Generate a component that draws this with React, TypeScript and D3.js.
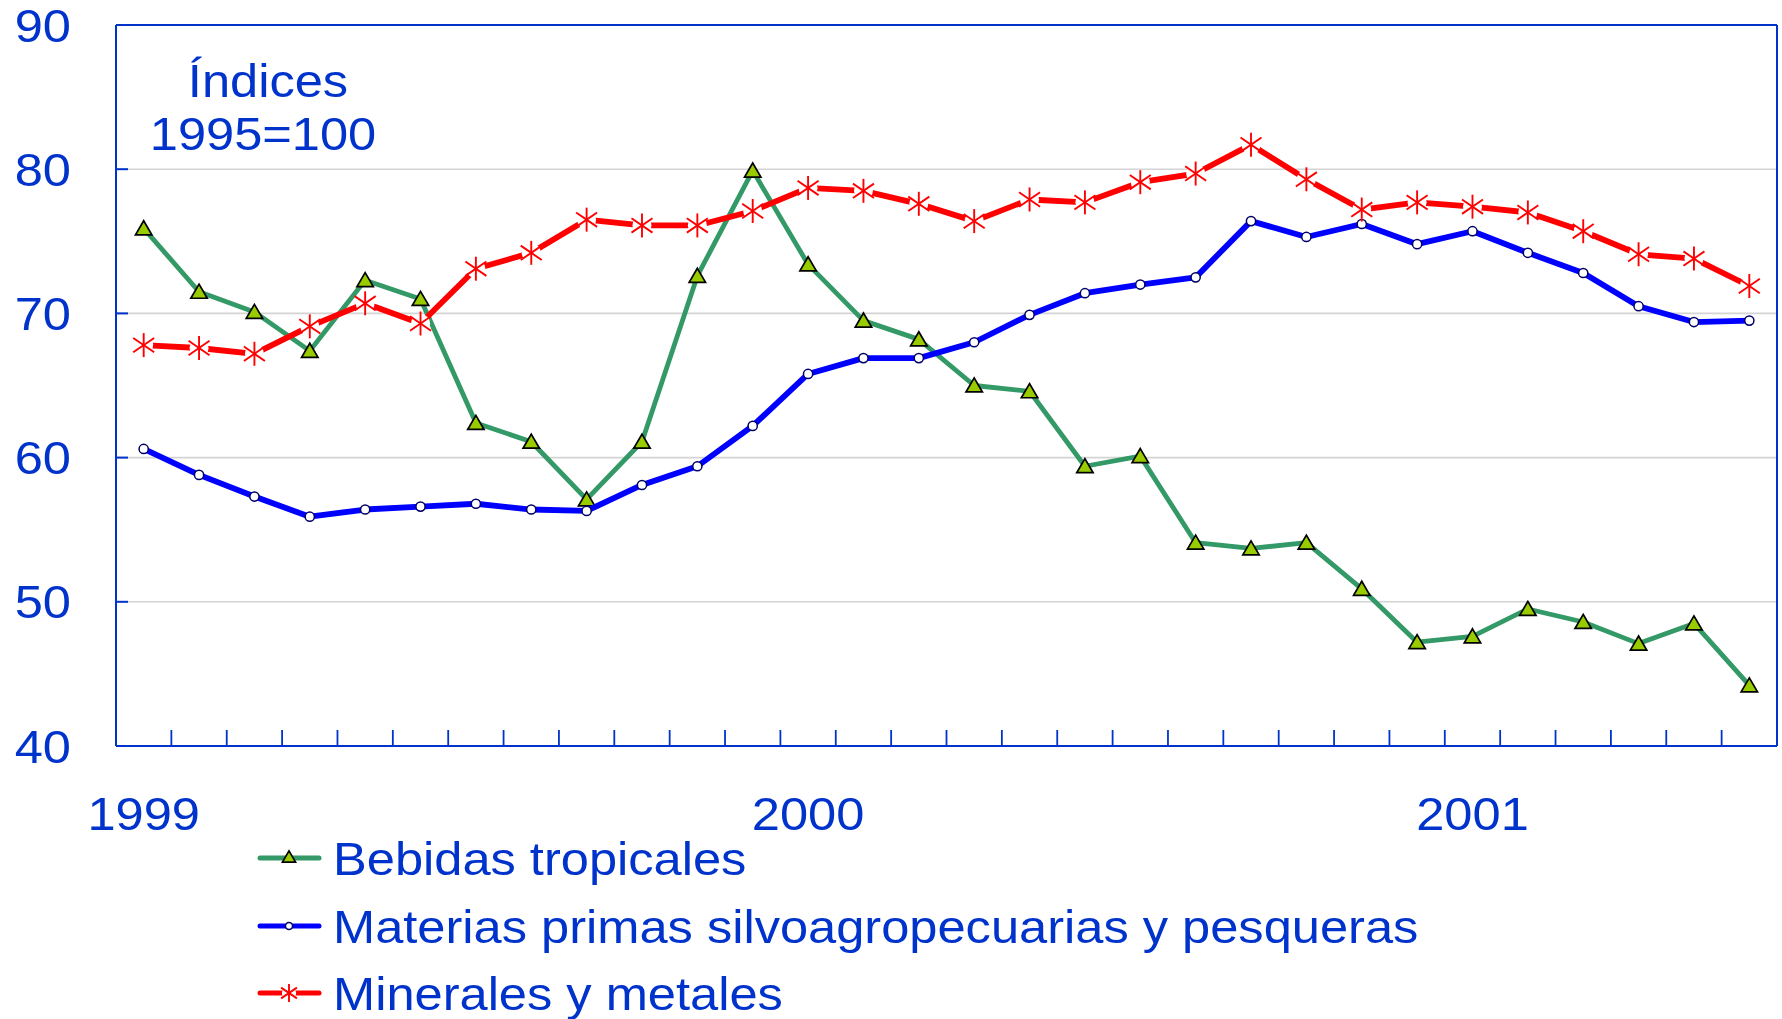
import React from "react";
import * as d3 from "d3";

const months = [
  "1999-01","1999-02","1999-03","1999-04","1999-05","1999-06",
  "1999-07","1999-08","1999-09","1999-10","1999-11","1999-12",
  "2000-01","2000-02","2000-03","2000-04","2000-05","2000-06",
  "2000-07","2000-08","2000-09","2000-10","2000-11","2000-12",
  "2001-01","2001-02","2001-03","2001-04","2001-05","2001-06",
];

const bebidas = [75.9,71.5,70.1,67.4,72.3,71.0,62.4,61.1,57.1,61.1,72.6,79.9,73.4,69.5,68.2,65.0,64.6,59.4,60.1,54.1,53.7,54.1,50.9,47.2,47.6,49.5,48.6,47.1,48.5,44.2];
const materias = [60.6,58.8,57.3,55.9,56.4,56.6,56.8,56.4,56.3,58.1,59.4,62.2,65.8,66.9,66.9,68.0,69.9,71.4,72.0,72.5,76.4,75.3,76.2,74.8,75.7,74.2,72.8,70.5,69.4,69.5];
const minerales = [67.8,67.6,67.2,69.1,70.7,69.3,73.1,74.2,76.5,76.1,76.1,77.1,78.7,78.5,77.6,76.4,77.9,77.7,79.1,79.7,81.7,79.3,77.2,77.7,77.4,77.0,75.7,74.1,73.8,71.9];

const yTicks = [40, 50, 60, 70, 80, 90];
const gridValues = [50, 60, 70, 80];
const yearLabels = [
  { label: "1999", month: "1999-01" },
  { label: "2000", month: "2000-01" },
  { label: "2001", month: "2001-01" },
];
const seriesNames = [
  "Bebidas tropicales",
  "Materias primas silvoagropecuarias y pesqueras",
  "Minerales y metales",
];

const W = 1782;
const H = 1019;
const M = { left: 116, right: 1777, top: 25, bottom: 746 };
const AXIS = "#0033cc";
const FONT = "'Liberation Sans', Arial, sans-serif";
const FS = 46;
const SX = 1.1;

function T({
  x,
  y,
  anchor = "start",
  dy,
  children,
}: {
  x: number;
  y: number;
  anchor?: string;
  dy?: string;
  children: React.ReactNode;
}) {
  return (
    <text
      transform={`translate(${x},${y}) scale(${SX},1)`}
      x={0}
      y={0}
      dy={dy}
      textAnchor={anchor}
      fontFamily={FONT}
      fontSize={FS}
      fill={AXIS}
    >
      {children}
    </text>
  );
}

function Triangle({ x, y, s = 1 }: { x: number; y: number; s?: number }) {
  const w = 8.2 * s, h = 7.6 * s;
  return (
    <path
      d={`M${x},${y - h} L${x + w},${y + h * 0.85} L${x - w},${y + h * 0.85} Z`}
      fill="#99cc00"
      stroke="#000"
      strokeWidth={1.7}
      strokeLinejoin="miter"
    />
  );
}

function Circle({ x, y, r = 4.6 }: { x: number; y: number; r?: number }) {
  return <circle cx={x} cy={y} r={r} fill="#fff" stroke="#000066" strokeWidth={1.5} />;
}

function Star({ x, y, s = 1 }: { x: number; y: number; s?: number }) {
  const a = 10.5 * s, b = 12 * s;
  return (
    <g>
      <circle cx={x} cy={y} r={9.5 * s} fill="#fff" />
      <g stroke="#ff0000" strokeWidth={1.9}>
        <line x1={x} y1={y - b} x2={x} y2={y + b} />
        <line x1={x - a} y1={y - b * 0.6} x2={x + a} y2={y + b * 0.6} />
        <line x1={x - a} y1={y + b * 0.6} x2={x + a} y2={y - b * 0.6} />
      </g>
    </g>
  );
}

export default function App() {
  const x = d3.scaleBand<string>().domain(months).range([M.left, M.right]).paddingInner(0).paddingOuter(0);
  const y = d3.scaleLinear().domain([40, 90]).range([M.bottom, M.top]);
  const cx = (m: string) => (x(m) as number) + x.bandwidth() / 2;

  const line = d3
    .line<number>()
    .x((_, i) => cx(months[i]))
    .y((d) => y(d));

  const boundaries = months.slice(1).map((m) => x(m) as number);

  const legendY = [858, 926, 993];

  return (
    <div style={{ position: "fixed", left: 0, top: 0, width: W, height: H, background: "#fff" }}>
      <svg width={W} height={H} style={{ display: "block" }}>
        <rect x={0} y={0} width={W} height={H} fill="#fff" />
        {/* gridlines */}
        {gridValues.map((v) => (
          <line key={v} x1={M.left} x2={M.right} y1={y(v)} y2={y(v)} stroke="#d4d4d4" strokeWidth={1.6} />
        ))}
        {/* frame */}
        <line x1={M.left} x2={M.right} y1={M.top} y2={M.top} stroke={AXIS} strokeWidth={2} />
        <line x1={M.right} x2={M.right} y1={M.top} y2={M.bottom} stroke={AXIS} strokeWidth={2} />
        <line x1={M.left} x2={M.left} y1={M.top} y2={M.bottom} stroke={AXIS} strokeWidth={2} />
        <line x1={M.left} x2={M.right} y1={M.bottom} y2={M.bottom} stroke={AXIS} strokeWidth={2.2} />
        {/* y ticks */}
        {yTicks.map((v) => (
          <g key={v}>
            <line x1={M.left} x2={M.left + 12} y1={y(v)} y2={y(v)} stroke={AXIS} strokeWidth={2} />
            <T x={71} y={y(v)} dy="0.36em" anchor="end">
              {v}
            </T>
          </g>
        ))}
        {/* x minor ticks */}
        {boundaries.map((bx, i) => (
          <line key={i} x1={bx} x2={bx} y1={M.bottom} y2={M.bottom - 16} stroke={AXIS} strokeWidth={1.8} />
        ))}
        {/* year labels */}
        {yearLabels.map((yl) => (
          <T key={yl.label} x={cx(yl.month)} y={830} anchor="middle">
            {yl.label}
          </T>
        ))}
        {/* annotation */}
        <T x={268} y={97} anchor="middle">
          Índices
        </T>
        <T x={263} y={150} anchor="middle">
          1995=100
        </T>
        {/* series */}
        <path d={line(bebidas) || ""} fill="none" stroke="#339966" strokeWidth={4.8} strokeLinejoin="round" />
        {bebidas.map((v, i) => (
          <Triangle key={i} x={cx(months[i])} y={y(v)} />
        ))}
        <path d={line(materias) || ""} fill="none" stroke="#0000ff" strokeWidth={5.8} strokeLinejoin="round" />
        {materias.map((v, i) => (
          <Circle key={i} x={cx(months[i])} y={y(v)} />
        ))}
        <path d={line(minerales) || ""} fill="none" stroke="#ff0000" strokeWidth={5.8} strokeLinejoin="round" />
        {minerales.map((v, i) => (
          <Star key={i} x={cx(months[i])} y={y(v)} />
        ))}
        {/* legend */}
        {seriesNames.map((name, i) => {
          const ly = legendY[i];
          const color = ["#339966", "#0000ff", "#ff0000"][i];
          return (
            <g key={name}>
              <line x1={260} x2={319} y1={ly} y2={ly} stroke={color} strokeWidth={5} strokeLinecap="round" />
              {i === 0 && <Triangle x={289} y={ly - 1} s={0.8} />}
              {i === 1 && <Circle x={289} y={ly} r={3.5} />}
              {i === 2 && <Star x={289} y={ly} s={0.75} />}
              <T x={333} y={ly + 17}>{name}</T>
            </g>
          );
        })}
      </svg>
    </div>
  );
}
